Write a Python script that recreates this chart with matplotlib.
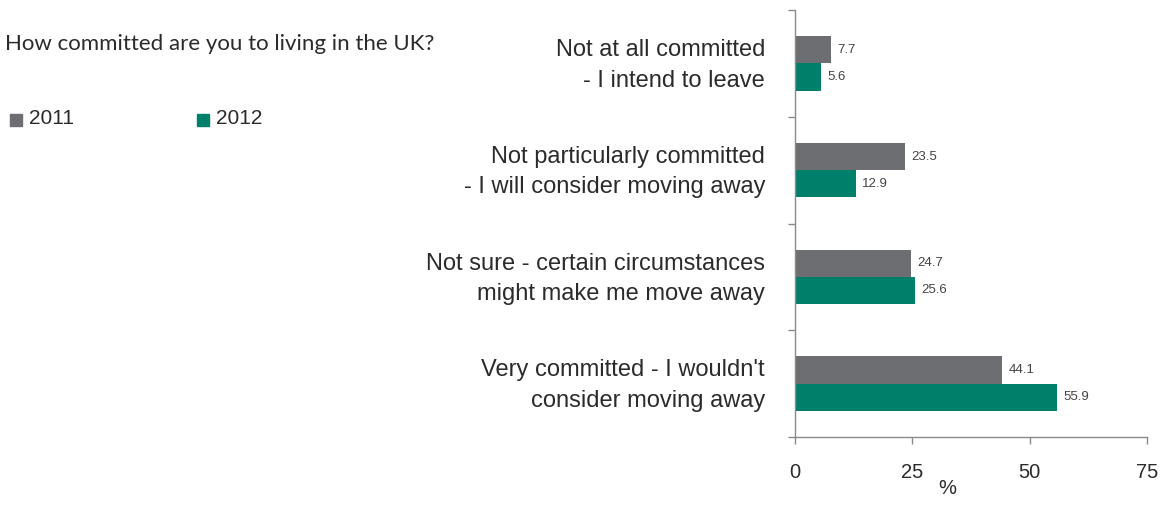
import matplotlib
matplotlib.use("Agg")
import matplotlib.pyplot as plt
import numpy as np

categories = [
    "Not at all committed\n- I intend to leave",
    "Not particularly committed\n- I will consider moving away",
    "Not sure - certain circumstances\nmight make me move away",
    "Very committed - I wouldn't\nconsider moving away",
]
values_2011 = [7.7, 23.5, 24.7, 44.1]
values_2012 = [5.6, 12.9, 25.6, 55.9]
series_names = ["2011", "2012"]
x_ticks = [0, 25, 50, 75]

GRAY = "#6d6e71"
GREEN = "#00806a"
SPINE = "#8a8a8a"
TEXT = "#2b2b2b"
FONT = "Liberation Sans"

fig = plt.figure(figsize=(11.65, 5.07), dpi=100)
ax = fig.add_axes([795 / 1165, 1 - 437 / 507, 352 / 1165, 427 / 507])

y = np.arange(len(categories))
h = 0.255
ax.barh(y - h / 2, values_2011, height=h, color=GRAY, label=series_names[0])
ax.barh(y + h / 2, values_2012, height=h, color=GREEN, label=series_names[1])

for offset, vals in [(-h / 2, values_2011), (h / 2, values_2012)]:
    for yi, v in zip(y + offset, vals):
        ax.annotate(f"{v}", xy=(v, yi), xytext=(4.5, 0), textcoords="offset points",
                    va="center", ha="left", fontsize=9.5, color="#444444", family=FONT)

ax.set_xlim(0, 75)
ax.set_ylim(len(categories) - 0.5, -0.5)
ax.set_xticks(x_ticks)
ax.set_xticklabels([str(t) for t in x_ticks], fontsize=14.5, color=TEXT, family=FONT)
ax.set_yticks(np.arange(len(categories) + 1) - 0.5)
ax.set_yticklabels([])
ax.tick_params(axis="both", direction="out", length=5, width=1, color=SPINE)
ax.tick_params(axis="x", pad=14)
for s in ["top", "right"]:
    ax.spines[s].set_visible(False)
for s in ["left", "bottom"]:
    ax.spines[s].set_color(SPINE)
    ax.spines[s].set_linewidth(1)

fig.text(947 / 1165, 1 - 488 / 507, "%", fontsize=14.5, color=TEXT, family=FONT,
         ha="center", va="center")

# category labels, right-aligned to the left of the axis
for yi, lab in zip(y, categories):
    ax.annotate(lab, xy=(0, yi), xycoords=("axes fraction", "data"),
                xytext=(-21.6, -1.5), textcoords="offset points",
                ha="right", va="center", fontsize=17, color=TEXT,
                family=FONT, linespacing=1.5, multialignment="right")

fig.text(5 / 1165, 1 - 44 / 507, "How committed are you to living in the UK?",
         fontsize=16, color=TEXT, family="Lato", va="center", ha="left")

# legend
for x0, col, name in [(10, GRAY, series_names[0]), (197, GREEN, series_names[1])]:
    fig.patches.append(plt.Rectangle((x0 / 1165, 1 - 126 / 507), 12 / 1165, 12 / 507,
                                     transform=fig.transFigure, color=col))
    fig.text((x0 + 19) / 1165, 1 - 119 / 507, name, fontsize=15, color=TEXT,
             family=FONT, va="center", ha="left")

fig.savefig("out.png", dpi=100)
